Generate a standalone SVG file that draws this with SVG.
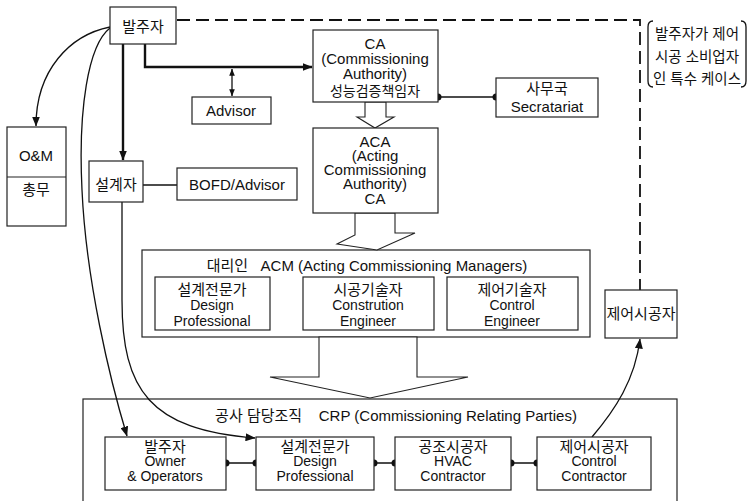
<svg xmlns="http://www.w3.org/2000/svg" width="750" height="501" viewBox="0 0 750 501">
<style>
.b{fill:#fff;stroke:#222;stroke-width:1.2}
.g{fill:none;stroke:#222;stroke-width:1.2}
.t{font-family:"Liberation Sans","Noto Sans CJK KR",sans-serif;font-size:15px;text-anchor:middle;fill:#111;white-space:pre}
.s{font-size:14px}
.c{fill:none;stroke:#111;stroke-width:1.3}
.k{fill:none;stroke:#111;stroke-width:2.4}
.blk{fill:#fff;stroke:#222;stroke-width:1.1}
.d{fill:#111}
</style>
<defs>
<marker id="ah" viewBox="0 0 10 8" refX="9.5" refY="4" markerWidth="10" markerHeight="8" markerUnits="userSpaceOnUse" orient="auto"><path d="M0,0 L10,4 L0,8 z" fill="#111"/></marker>
<marker id="ahs" viewBox="0 0 10 8" refX="9.5" refY="4" markerWidth="7" markerHeight="6" markerUnits="userSpaceOnUse" orient="auto-start-reverse"><path d="M0,0 L10,4 L0,8 z" fill="#111"/></marker>
</defs>
<rect width="750" height="501" fill="#fff"/>

<g id="acm"><rect class="g" x="142" y="250" width="448" height="87"/>
<text class="t" x="367" y="271" xml:space="preserve">대리인   ACM (Acting Commissioning Managers)</text></g>

<g id="crp"><rect class="g" x="83" y="399" width="594" height="110"/>
<text class="t" x="396" y="421" xml:space="preserve">공사 담당조직    CRP (Commissioning Relating Parties)</text></g>

<g id="connectors">
<path d="M177,20 L640,20 L640,290" fill="none" stroke="#111" stroke-width="1.8" stroke-dasharray="13,6"/>
<path class="k" d="M145,44 L145,67 L312,67" marker-end="url(#ah)"/>
<path class="k" d="M123,44 L123,160" marker-end="url(#ah)"/>
<path class="c" d="M232,69 L232,96" marker-start="url(#ahs)" marker-end="url(#ahs)"/>
<path class="c" d="M110,27 C70,35 36,70 36,126" marker-end="url(#ah)"/>
<path class="c" d="M110,28 C88,45 78,110 82,190 C86,280 110,380 127,436" marker-end="url(#ah)"/>
<path class="c" d="M122,202 L122,300 C122,390 150,430 255,438" marker-end="url(#ah)"/>
<path class="c" d="M592,437 C615,410 635,380 640,339" marker-end="url(#ah)"/>
<path class="c" d="M143,185 L177,185"/>
<path class="c" stroke-width="2" d="M438,97 L496,97"/>
<circle class="d" cx="438" cy="97" r="3.5"/><circle class="d" cx="496" cy="97" r="3.5"/>
<path class="c" stroke-width="1.8" d="M226,463 L256,463 M374,463 L395,463 M511,463 L537,463"/>
<circle class="d" cx="226" cy="463" r="3.5"/><circle class="d" cx="256" cy="463" r="3.5"/>
<circle class="d" cx="374" cy="463" r="3.5"/><circle class="d" cx="395" cy="463" r="3.5"/>
<circle class="d" cx="511" cy="463" r="3.5"/><circle class="d" cx="537" cy="463" r="3.5"/>
<polygon class="blk" points="365,102 365,117 357,117 375,128 394,117 386,117 386,102"/>
<polygon class="blk" points="355,213 355,235 337,244 377,250 415,233 395,233 395,213"/>
<polygon class="blk" points="319,337 319,377 270,377 370,398 468,377 417,377 417,337"/>
</g>

<g id="owner"><rect class="b" x="110" y="7" width="66" height="37"/><text class="t" x="143" y="32">발주자</text></g>

<g id="note">
<path class="c" stroke-width="1.2" d="M653,21 Q648,21 648,27 L648,81 Q648,87 653,87 M741,21 Q746,21 746,27 L746,81 Q746,87 741,87"/>
<text class="t" x="697" y="39" style="font-size:14.5px">발주자가 제어</text>
<text class="t" x="697" y="62" style="font-size:14.5px">시공 소비업자</text>
<text class="t" x="697" y="84" style="font-size:14.5px">인 특수 케이스</text>
</g>

<g id="ca"><rect class="b" x="313" y="30" width="125" height="72"/>
<text class="t" x="375" y="49">CA</text>
<text class="t" x="375" y="64">(Commissioning</text>
<text class="t" x="375" y="79">Authority)</text>
<text class="t" x="375" y="96" style="font-size:14px">성능검증책임자</text></g>

<g id="advisor"><rect class="b" x="192" y="97" width="79" height="27"/><text class="t" x="231" y="116">Advisor</text></g>

<g id="secretariat"><rect class="b" x="496" y="78" width="102" height="39"/>
<text class="t" x="547" y="94">사무국</text><text class="t" x="547" y="112">Secratariat</text></g>

<g id="om"><rect class="b" x="7" y="127" width="59" height="99"/><line x1="7" y1="177" x2="66" y2="177" stroke="#222" stroke-width="1.2"/>
<text class="t" x="36" y="161">O&amp;M</text><text class="t" x="36" y="195">총무</text></g>

<g id="designer"><rect class="b" x="89" y="161" width="54" height="41"/><text class="t" x="116" y="190">설계자</text></g>

<g id="bofd"><rect class="b" x="177" y="168" width="120" height="32"/><text class="t" x="237" y="190">BOFD/Advisor</text></g>

<g id="aca"><rect class="b" x="313" y="128" width="125" height="85"/>
<text class="t" x="375" y="147">ACA</text>
<text class="t" x="375" y="161">(Acting</text>
<text class="t" x="375" y="175">Commissioning</text>
<text class="t" x="375" y="189">Authority)</text>
<text class="t" x="375" y="204">CA</text></g>

<g id="acm-design"><rect class="b" x="155" y="277" width="115" height="53"/>
<text class="t" x="212" y="295">설계전문가</text><text class="t s" x="212" y="310">Design</text><text class="t s" x="212" y="326">Professional</text></g>

<g id="acm-construction"><rect class="b" x="303" y="277" width="131" height="53"/>
<text class="t" x="368" y="295">시공기술자</text><text class="t s" x="368" y="310">Constrution</text><text class="t s" x="368" y="326">Engineer</text></g>

<g id="acm-control"><rect class="b" x="447" y="277" width="131" height="53"/>
<text class="t" x="512" y="295">제어기술자</text><text class="t s" x="512" y="310">Control</text><text class="t s" x="512" y="326">Engineer</text></g>

<g id="control-contractor-top"><rect class="b" x="605" y="290" width="72" height="48"/><text class="t" x="641" y="319">제어시공자</text></g>

<g id="crp-owner"><rect class="b" x="105" y="437" width="121" height="53"/>
<text class="t" x="165" y="452">발주자</text><text class="t s" x="165" y="466">Owner</text><text class="t s" x="165" y="481">&amp; Operators</text></g>

<g id="crp-design"><rect class="b" x="256" y="437" width="118" height="53"/>
<text class="t" x="315" y="452">설계전문가</text><text class="t s" x="315" y="466">Design</text><text class="t s" x="315" y="481">Professional</text></g>

<g id="crp-hvac"><rect class="b" x="395" y="437" width="116" height="53"/>
<text class="t" x="453" y="452">공조시공자</text><text class="t s" x="453" y="466">HVAC</text><text class="t s" x="453" y="481">Contractor</text></g>

<g id="crp-control"><rect class="b" x="537" y="437" width="114" height="53"/>
<text class="t" x="594" y="452">제어시공자</text><text class="t s" x="594" y="466">Control</text><text class="t s" x="594" y="481">Contractor</text></g>
</svg>
